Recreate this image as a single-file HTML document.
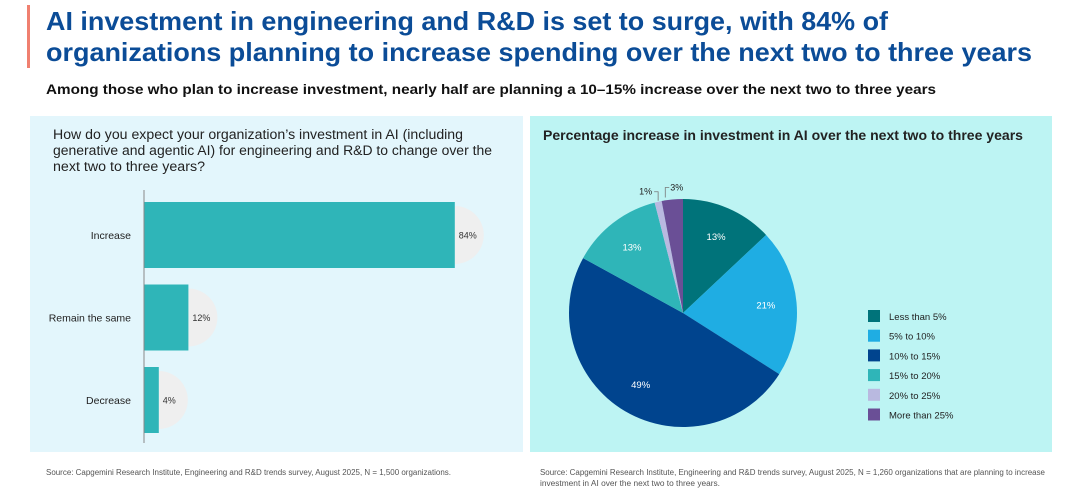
<!DOCTYPE html>
<html><head><meta charset="utf-8"><style>
body{margin:0;background:#fff;}
svg{display:block;font-family:"Liberation Sans",sans-serif;}
</style></head><body>
<svg id="c" width="1080" height="494" viewBox="0 0 1080 494">
<rect x="27" y="5" width="3" height="63" fill="#f08070"/>
<text x="46" y="30" font-size="26" font-weight="bold" fill="#0b4c97" textLength="842" lengthAdjust="spacingAndGlyphs">AI investment in engineering and R&amp;D is set to surge, with 84% of</text>
<text x="46" y="61" font-size="26" font-weight="bold" fill="#0b4c97" textLength="986" lengthAdjust="spacingAndGlyphs">organizations planning to increase spending over the next two to three years</text>
<text x="46" y="94" font-size="14" font-weight="bold" fill="#111" textLength="890" lengthAdjust="spacingAndGlyphs">Among those who plan to increase investment, nearly half are planning a 10–15% increase over the next two to three years</text>
<rect x="30" y="116" width="493" height="336" fill="#e3f6fc"/>
<rect x="530" y="116" width="522" height="336" fill="#bdf4f3"/>
<g font-size="13.5" fill="#222">
<text x="53" y="139" textLength="410" lengthAdjust="spacingAndGlyphs">How do you expect your organization’s investment in AI (including</text>
<text x="53" y="155" textLength="439" lengthAdjust="spacingAndGlyphs">generative and agentic AI) for engineering and R&amp;D to change over the</text>
<text x="53" y="171" textLength="152" lengthAdjust="spacingAndGlyphs">next two to three years?</text>
</g>
<text x="543" y="140" font-size="13.5" font-weight="bold" fill="#222" textLength="480" lengthAdjust="spacingAndGlyphs">Percentage increase in investment in AI over the next two to three years</text>
<g id="bars"></g>
<g id="pie"></g>
<g id="legend"></g>
<text x="46" y="475" font-size="8" fill="#555" textLength="405" lengthAdjust="spacingAndGlyphs">Source: Capgemini Research Institute, Engineering and R&amp;D trends survey, August 2025, N = 1,500 organizations.</text>
<text x="540" y="475" font-size="8" fill="#555" textLength="505" lengthAdjust="spacingAndGlyphs">Source: Capgemini Research Institute, Engineering and R&amp;D trends survey, August 2025, N = 1,260 organizations that are planning to increase</text>
<text x="540" y="486" font-size="8" fill="#555" textLength="180" lengthAdjust="spacingAndGlyphs">investment in AI over the next two to three years.</text>
</svg>
<script>
const barCategories=["Increase","Remain the same","Decrease"];
const barValues=[84,12,4];
const pieCategories=["Less than 5%","5% to 10%","10% to 15%","15% to 20%","20% to 25%","More than 25%"];
const pieValues=[13,21,49,13,1,3];
const pieColors=["#00737a","#1fade3","#00448e","#2fb5b8","#b9b9e0","#6a4f96"];
const NS="http://www.w3.org/2000/svg";
function mk(tag,attrs,parent){const e=document.createElementNS(NS,tag);for(const k in attrs)e.setAttribute(k,attrs[k]);parent.appendChild(e);return e;}
const bg=document.getElementById('bars');
const x0=144,scale=3.7,bandTop=202,band=82.5,bh=66;
const xs=v=>x0+v*scale;
barCategories.forEach((c,i)=>{
  const y=bandTop+i*band;
  const w=xs(barValues[i])-x0;
  const bub=mk('path',{d:`M${x0+w},${y+4} a29,29 0 0 1 0,58 z`,fill:'#efefef'},bg);
  
  
  const r=mk('rect',{x:x0,y:y,width:w,height:bh,fill:'#2fb5b8'},bg);
  
  
  const t=mk('text',{x:x0+w+4,y:y+bh/2+3.5,'font-size':9,fill:'#333'},bg);t.textContent=barValues[i]+'%';
  
  
  const l=mk('text',{x:131,y:y+bh/2+4,'font-size':10.5,fill:'#222','text-anchor':'end'},bg);l.textContent=c;
  
  
});
const ax=mk('line',{x1:x0,y1:190,x2:x0,y2:443,stroke:'#888','stroke-width':1},bg);


const pg=document.getElementById('pie');
const cx=683,cy=313,R=114;
const total=pieValues.reduce((a,b)=>a+b,0);
let acc=0;
pieValues.forEach((v,i)=>{
  const a0=acc/total*2*Math.PI;acc+=v;const a1=acc/total*2*Math.PI;
  const p=a=>[cx+R*Math.sin(a),cy-R*Math.cos(a)];
  const [x1,y1]=p(a0),[x2,y2]=p(a1);
  const s=mk('path',{d:`M${cx},${cy}L${x1},${y1}A${R},${R} 0 ${a1-a0>Math.PI?1:0} 1 ${x2},${y2}Z`,fill:pieColors[i]},pg);
  
  
  const am=(a0+a1)/2;
  if(v>=5){
    const rr=R*0.73;
    const t=mk('text',{x:cx+rr*Math.sin(am),y:cy-rr*Math.cos(am)+3.5,'font-size':9.5,fill:'#fff','text-anchor':'middle'},pg);
    t.textContent=v+'%';
    
    
  } else {
    const ex=cx+R*Math.sin(am),ey=cy-R*Math.cos(am);
    const left=i===4;
    const ln=mk('polyline',{points:`${ex},${ey-1} ${ex},${ey-10} ${ex-4},${ey-10}`,fill:'none',stroke:'#777','stroke-width':0.8},pg);
    if(!left)ln.setAttribute('points',`${ex-7},${ey-2} ${ex-7},${ey-12} ${ex-3},${ey-12}`);
    
    
    const t=mk('text',{x:left?ex-6:ex-2,y:left?ey-7:ey-9,'font-size':9,fill:'#222','text-anchor':left?'end':'start'},pg);
    t.textContent=v+'%';
    
    
  }
});
const lg=document.getElementById('legend');
pieCategories.forEach((c,i)=>{
  const y=310+i*19.7;
  const r=mk('rect',{x:868,y:y,width:12,height:12,fill:pieColors[i]},lg);
  
  
  const t=mk('text',{x:889,y:y+10,'font-size':9.5,fill:'#222'},lg);t.textContent=c;
  
  
});
</script>
</body></html>
